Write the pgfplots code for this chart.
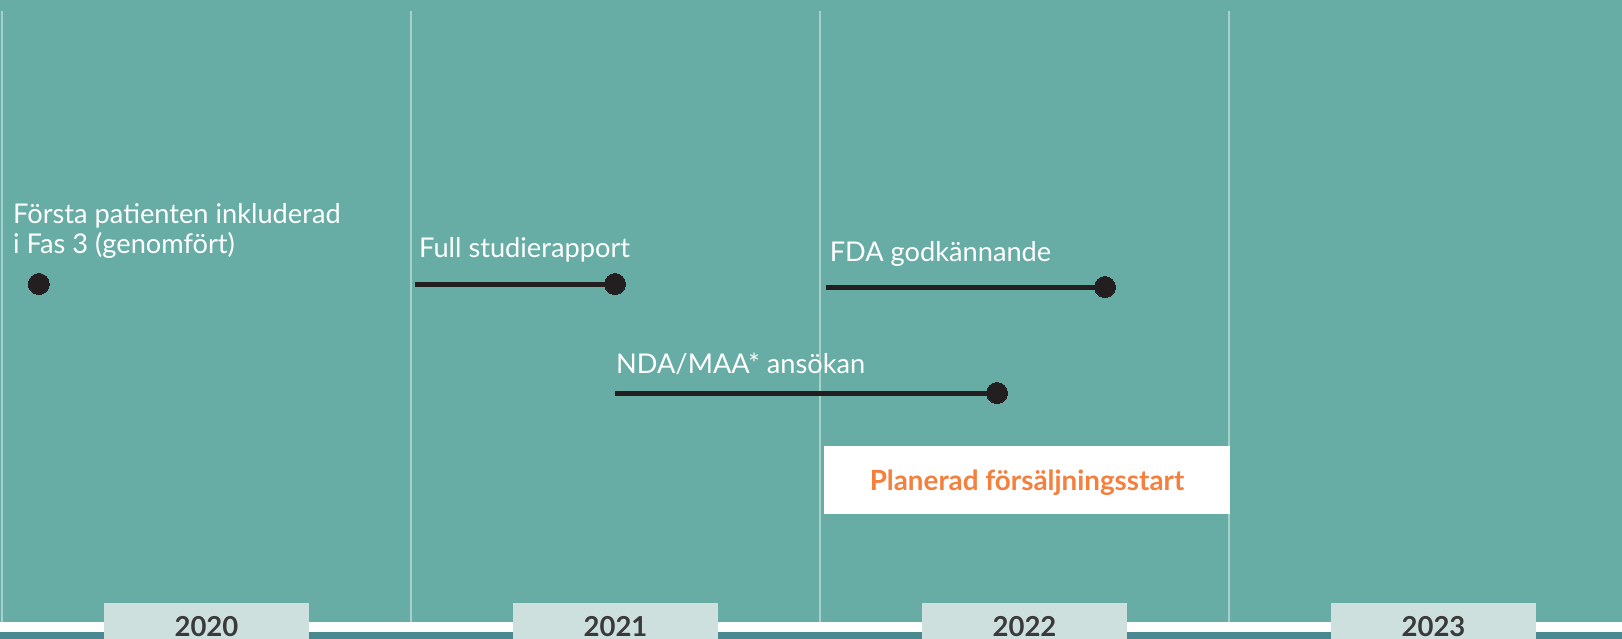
\documentclass[border=0pt]{standalone}
\usepackage{pgfplots}
\pgfplotsset{compat=1.18}
\usepackage{fontspec}
\setmainfont{Lato}
\definecolor{bg}{HTML}{67ADA5}
\definecolor{gridcol}{HTML}{A8D0CB}
\definecolor{darkband}{HTML}{4A8990}
\definecolor{yearbox}{HTML}{CDE0DE}
\definecolor{yeartext}{HTML}{3A3A3A}
\definecolor{evline}{HTML}{231F20}
\definecolor{orange}{HTML}{F57F3C}
\tikzset{
  ev/.style={evline, line width=5pt, mark=*, mark size=10.5pt, mark options={fill=evline, draw=evline, line width=0pt}},
  txt/.style={anchor=base west, inner sep=0pt, text=white, font=\fontsize{27.2pt}{32pt}\selectfont},
  yrtxt/.style={anchor=base, inner sep=0pt, text=yeartext, font=\fontsize{27.5pt}{34pt}\selectfont\bfseries},
}
\begin{document}
\begin{tikzpicture}
\begin{axis}[
  scale only axis, width=1622pt, height=639pt,
  xmin=2019.99511, xmax=2023.96088, ymin=0, ymax=639, y dir=reverse,
  axis line style={draw=none}, xtick=\empty, ytick=\empty,
  axis background/.style={fill=bg},
  clip=true,
]
% vertical year separators
\addplot[draw=gridcol, line width=2.6pt] coordinates {(2020,11) (2020,622)};
\addplot[draw=gridcol, line width=2.6pt] coordinates {(2021,11) (2021,622)};
\addplot[draw=gridcol, line width=2.6pt] coordinates {(2022,11) (2022,622)};
\addplot[draw=gridcol, line width=2.6pt] coordinates {(2023,11) (2023,622)};
% bottom white line and dark band
\addplot[draw=none, fill=white] coordinates {(2019.99,622) (2023.97,622) (2023.97,632) (2019.99,632)} --cycle;
\addplot[draw=none, fill=darkband] coordinates {(2019.99,632) (2023.97,632) (2023.97,640) (2019.99,640)} --cycle;
% year boxes
\addplot[draw=none, fill=yearbox] coordinates {(2020.249,603) (2020.750,603) (2020.750,640) (2020.249,640)} --cycle;
\addplot[draw=none, fill=yearbox] coordinates {(2021.249,603) (2021.750,603) (2021.750,640) (2021.249,640)} --cycle;
\addplot[draw=none, fill=yearbox] coordinates {(2022.249,603) (2022.750,603) (2022.750,640) (2022.249,640)} --cycle;
\addplot[draw=none, fill=yearbox] coordinates {(2023.249,603) (2023.750,603) (2023.750,640) (2023.249,640)} --cycle;
\node[yrtxt] at (axis cs:2020.5,636.5) {2020};
\node[yrtxt] at (axis cs:2021.5,636.5) {2021};
\node[yrtxt] at (axis cs:2022.5,636.5) {2022};
\node[yrtxt] at (axis cs:2023.5,636.5) {2023};
% planned sales start box
\addplot[draw=none, fill=white] coordinates {(2022.010,446) (2023.002,446) (2023.002,514) (2022.010,514)} --cycle;
\node[anchor=base, inner sep=0pt, text=orange, font=\fontsize{27.8pt}{32pt}\selectfont\bfseries] at (axis cs:2022.506,490.5) {Planerad försäljningsstart};
% events
\addplot[ev, only marks] coordinates {(2020.090,284)};
\addplot[ev, mark indices={2}] coordinates {(2021.0098,284) (2021.4988,284)};
\addplot[ev, mark indices={2}] coordinates {(2022.0147,287) (2022.6968,287)};
\addplot[ev, mark indices={2}] coordinates {(2021.4988,393) (2022.4328,393)};
% labels
\node[txt] at (axis cs:2020.027,223) {Första patienten inkluderad};
\node[txt] at (axis cs:2020.027,254) {i Fas 3 (genomfört)};
\node[txt] at (axis cs:2021.0195,257) {Full studierapport};
\node[txt] at (axis cs:2022.0235,261) {FDA godkännande};
\node[txt] at (axis cs:2021.501,373) {NDA/MAA* ansökan};
\end{axis}
\end{tikzpicture}
\end{document}
